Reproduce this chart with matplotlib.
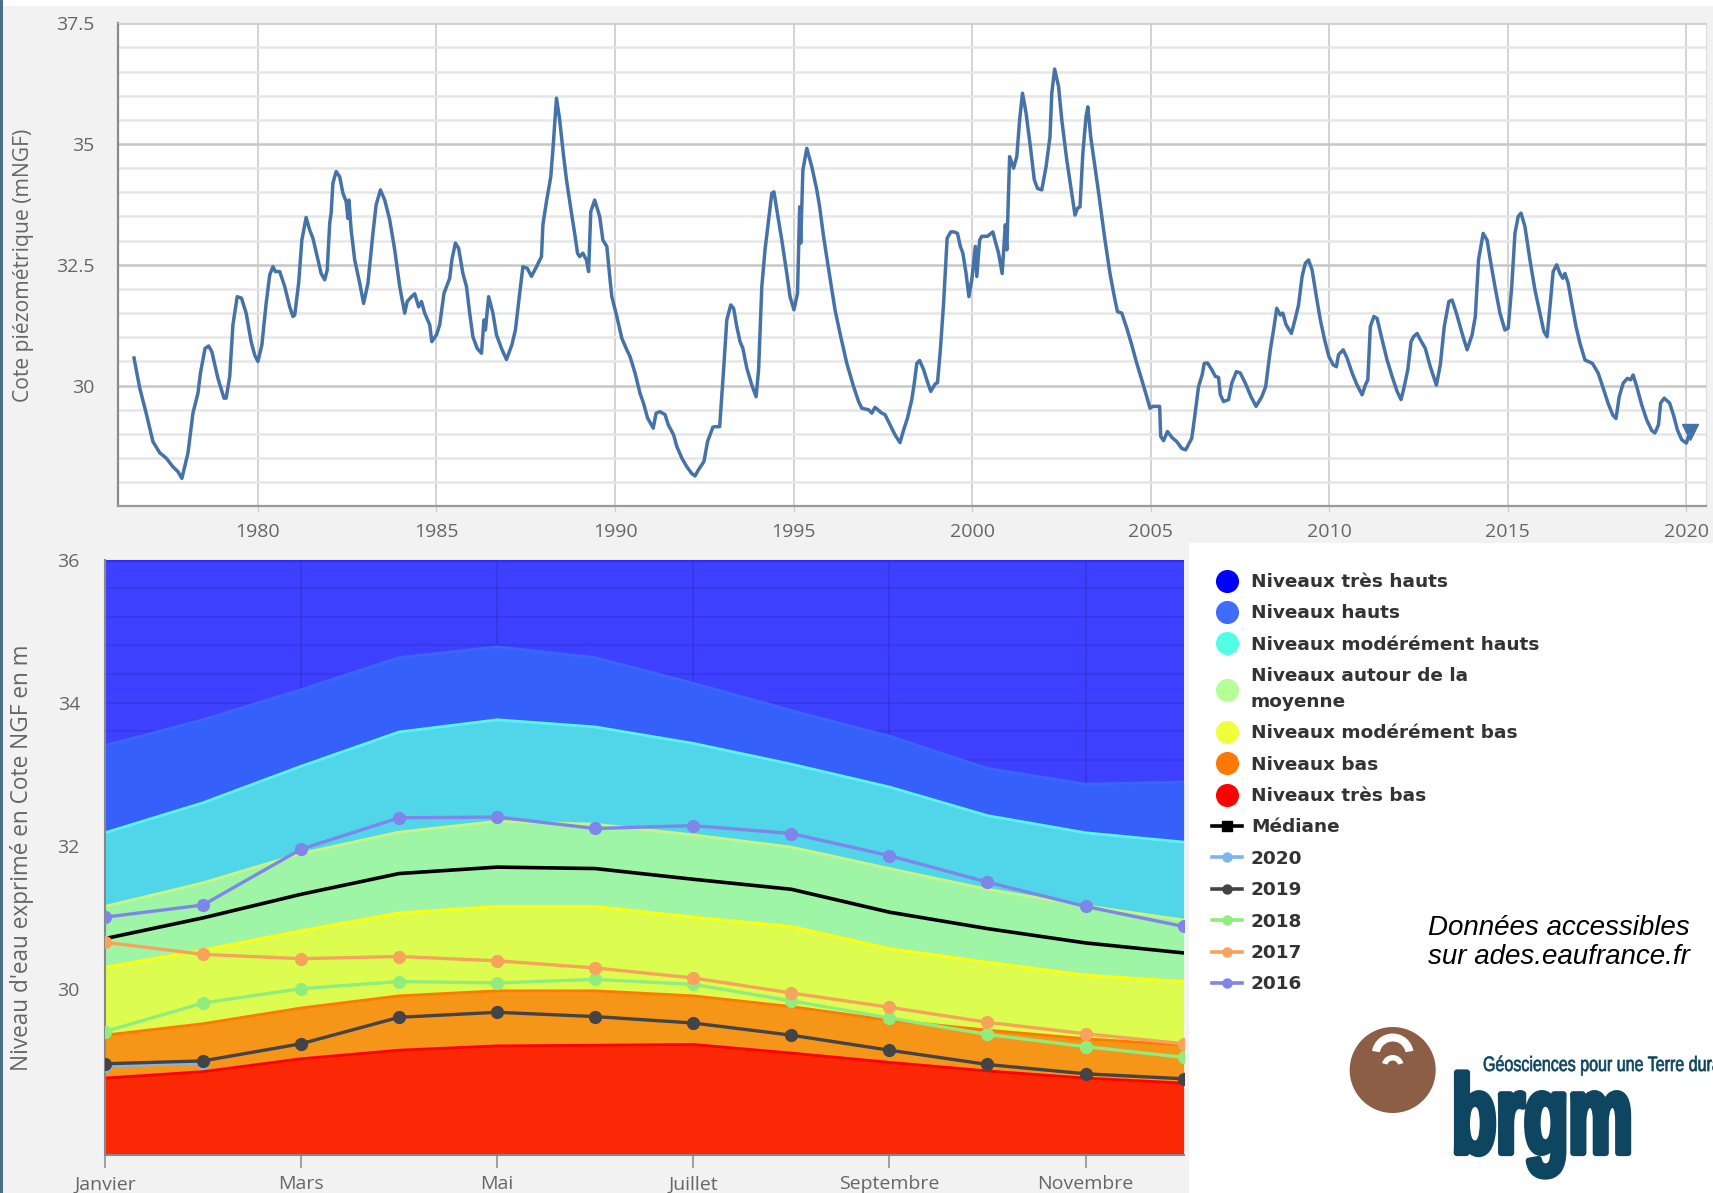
import numpy as np
import matplotlib
matplotlib.use("Agg")
import matplotlib.pyplot as plt
from matplotlib.lines import Line2D
from matplotlib.patches import Rectangle, Circle, Wedge
from matplotlib.font_manager import FontProperties
from matplotlib.patheffects import AbstractPathEffect
from matplotlib.transforms import Affine2D

plt.rcParams["font.family"] = ["Open Sans", "DejaVu Sans"]

# --- chronique piézométrique (année décimale, cote en mNGF) ---
dates = [
    1976.53, 1976.69, 1976.87, 1977.06, 1977.25, 1977.43, 1977.62, 1977.76, 1977.87, 1978.04,
    1978.18, 1978.32, 1978.39, 1978.52, 1978.62, 1978.71, 1978.88, 1979.05, 1979.11, 1979.21,
    1979.30, 1979.42, 1979.54, 1979.67, 1979.81, 1979.91, 1980.00, 1980.11, 1980.23, 1980.33,
    1980.42, 1980.49, 1980.61, 1980.75, 1980.89, 1980.98, 1981.03, 1981.14, 1981.23, 1981.35,
    1981.45, 1981.54, 1981.66, 1981.77, 1981.87, 1981.94, 1982.01, 1982.05, 1982.10, 1982.19,
    1982.29, 1982.38, 1982.47, 1982.52, 1982.55, 1982.61, 1982.71, 1982.85, 1982.96, 1983.08,
    1983.22, 1983.31, 1983.43, 1983.55, 1983.69, 1983.83, 1983.97, 1984.11, 1984.18, 1984.30,
    1984.39, 1984.50, 1984.58, 1984.67, 1984.81, 1984.87, 1985.00, 1985.09, 1985.21, 1985.37,
    1985.43, 1985.53, 1985.62, 1985.74, 1985.84, 1985.93, 1986.02, 1986.14, 1986.26, 1986.33,
    1986.37, 1986.46, 1986.58, 1986.68, 1986.82, 1986.96, 1987.11, 1987.21, 1987.33, 1987.42,
    1987.54, 1987.66, 1987.80, 1987.94, 1987.98, 1988.08, 1988.20, 1988.26, 1988.36, 1988.45,
    1988.55, 1988.64, 1988.78, 1988.87, 1988.95, 1989.01, 1989.10, 1989.20, 1989.26, 1989.32,
    1989.43, 1989.57, 1989.66, 1989.77, 1989.87, 1989.91, 1990.05, 1990.19, 1990.33, 1990.42,
    1990.56, 1990.70, 1990.80, 1990.91, 1991.07, 1991.15, 1991.26, 1991.40, 1991.49, 1991.64,
    1991.73, 1991.87, 1992.01, 1992.15, 1992.24, 1992.33, 1992.49, 1992.59, 1992.74, 1992.80,
    1992.93, 1993.04, 1993.13, 1993.24, 1993.32, 1993.41, 1993.50, 1993.58, 1993.69, 1993.83,
    1993.95, 1994.02, 1994.11, 1994.20, 1994.30, 1994.39, 1994.45, 1994.53, 1994.67, 1994.81,
    1994.90, 1995.01, 1995.11, 1995.17, 1995.20, 1995.26, 1995.37, 1995.51, 1995.65, 1995.73,
    1995.84, 1995.97, 1996.16, 1996.30, 1996.49, 1996.68, 1996.82, 1996.91, 1997.10, 1997.19,
    1997.28, 1997.47, 1997.56, 1997.70, 1997.84, 1997.98, 1998.08, 1998.19, 1998.31, 1998.38,
    1998.45, 1998.53, 1998.64, 1998.73, 1998.84, 1998.97, 1999.03, 1999.11, 1999.20, 1999.30,
    1999.40, 1999.50, 1999.59, 1999.67, 1999.74, 1999.83, 1999.91, 1999.99, 2000.09, 2000.13,
    2000.21, 2000.27, 2000.43, 2000.58, 2000.65, 2000.74, 2000.84, 2000.93, 2000.97, 2001.05,
    2001.16, 2001.25, 2001.33, 2001.41, 2001.51, 2001.63, 2001.74, 2001.83, 2001.95, 2002.07,
    2002.18, 2002.23, 2002.31, 2002.42, 2002.51, 2002.65, 2002.79, 2002.88, 2002.95, 2003.02,
    2003.10, 2003.19, 2003.24, 2003.32, 2003.44, 2003.53, 2003.63, 2003.72, 2003.86, 2004.00,
    2004.07, 2004.19, 2004.33, 2004.47, 2004.61, 2004.75, 2004.89, 2004.98, 2005.06, 2005.25,
    2005.28, 2005.36, 2005.47, 2005.59, 2005.73, 2005.87, 2005.98, 2006.15, 2006.22, 2006.34,
    2006.44, 2006.50, 2006.59, 2006.71, 2006.81, 2006.90, 2006.95, 2007.04, 2007.18, 2007.27,
    2007.40, 2007.51, 2007.65, 2007.81, 2007.95, 2008.11, 2008.22, 2008.35, 2008.44, 2008.53,
    2008.63, 2008.70, 2008.79, 2008.94, 2009.05, 2009.14, 2009.24, 2009.33, 2009.42, 2009.52,
    2009.64, 2009.75, 2009.87, 2009.99, 2010.11, 2010.20, 2010.26, 2010.39, 2010.50, 2010.64,
    2010.78, 2010.92, 2011.01, 2011.08, 2011.15, 2011.25, 2011.34, 2011.48, 2011.62, 2011.76,
    2011.90, 2012.01, 2012.10, 2012.20, 2012.29, 2012.36, 2012.46, 2012.55, 2012.69, 2012.83,
    2013.00, 2013.11, 2013.22, 2013.35, 2013.44, 2013.56, 2013.72, 2013.86, 2014.00, 2014.09,
    2014.18, 2014.31, 2014.42, 2014.51, 2014.64, 2014.78, 2014.92, 2015.01, 2015.11, 2015.20,
    2015.29, 2015.37, 2015.48, 2015.62, 2015.76, 2015.90, 2016.01, 2016.10, 2016.18, 2016.27,
    2016.37, 2016.46, 2016.54, 2016.60, 2016.69, 2016.79, 2016.91, 2017.02, 2017.16, 2017.25,
    2017.37, 2017.53, 2017.67, 2017.81, 2017.94, 2018.03, 2018.12, 2018.23, 2018.35, 2018.44,
    2018.51, 2018.61, 2018.75, 2018.89, 2019.03, 2019.12, 2019.22, 2019.28, 2019.38, 2019.53,
    2019.64, 2019.75, 2019.87, 2020.00, 2020.11,
]
cote = [
    30.57, 29.95, 29.43, 28.84, 28.61, 28.50, 28.32, 28.22, 28.08, 28.60,
    29.43, 29.84, 30.26, 30.77, 30.82, 30.70, 30.15, 29.74, 29.74, 30.19,
    31.26, 31.84, 31.81, 31.50, 30.91, 30.63, 30.50, 30.84, 31.70, 32.29,
    32.46, 32.36, 32.36, 32.05, 31.63, 31.43, 31.46, 32.12, 33.01, 33.48,
    33.22, 33.05, 32.67, 32.32, 32.19, 32.39, 33.36, 33.57, 34.19, 34.43,
    34.32, 33.98, 33.81, 33.46, 33.84, 33.22, 32.60, 32.12, 31.70, 32.12,
    33.15, 33.74, 34.05, 33.84, 33.43, 32.81, 32.05, 31.50, 31.74, 31.84,
    31.90, 31.63, 31.74, 31.50, 31.26, 30.91, 31.05, 31.26, 31.91, 32.22,
    32.60, 32.95, 32.84, 32.32, 32.05, 31.50, 31.01, 30.77, 30.67, 31.36,
    31.15, 31.84, 31.50, 31.05, 30.77, 30.54, 30.84, 31.15, 31.91, 32.46,
    32.43, 32.26, 32.46, 32.67, 33.33, 33.81, 34.32, 34.88, 35.95, 35.50,
    34.81, 34.26, 33.57, 33.15, 32.74, 32.67, 32.74, 32.60, 32.36, 33.60,
    33.84, 33.50, 33.01, 32.88, 32.12, 31.84, 31.43, 30.98, 30.74, 30.60,
    30.26, 29.84, 29.63, 29.33, 29.12, 29.43, 29.46, 29.40, 29.19, 28.98,
    28.74, 28.50, 28.32, 28.18, 28.13, 28.25, 28.43, 28.84, 29.14, 29.15,
    29.15, 30.33, 31.36, 31.67, 31.60, 31.22, 30.91, 30.77, 30.36, 30.01,
    29.77, 30.33, 32.05, 32.81, 33.43, 33.98, 34.01, 33.64, 33.01, 32.32,
    31.84, 31.57, 31.91, 33.70, 32.95, 34.46, 34.91, 34.53, 34.05, 33.70,
    33.08, 32.46, 31.57, 31.08, 30.46, 29.98, 29.67, 29.53, 29.50, 29.43,
    29.55, 29.43, 29.40, 29.19, 28.98, 28.82, 29.08, 29.33, 29.71, 30.05,
    30.46, 30.52, 30.33, 30.12, 29.88, 30.04, 30.06, 30.74, 31.70, 33.05,
    33.18, 33.18, 33.15, 32.88, 32.74, 32.32, 31.84, 32.19, 32.88, 32.26,
    33.01, 33.09, 33.09, 33.18, 32.98, 32.74, 32.32, 33.33, 32.81, 34.74,
    34.50, 34.74, 35.50, 36.05, 35.64, 34.95, 34.26, 34.08, 34.05, 34.53,
    35.15, 36.05, 36.55, 36.19, 35.50, 34.67, 33.98, 33.53, 33.67, 33.70,
    34.81, 35.57, 35.77, 35.15, 34.53, 34.05, 33.50, 33.01, 32.32, 31.77,
    31.53, 31.50, 31.19, 30.84, 30.46, 30.12, 29.77, 29.53, 29.57, 29.57,
    28.95, 28.86, 29.05, 28.93, 28.84, 28.70, 28.67, 28.91, 29.29, 29.98,
    30.22, 30.46, 30.47, 30.33, 30.19, 30.17, 29.81, 29.67, 29.71, 30.05,
    30.29, 30.26, 30.05, 29.77, 29.57, 29.77, 29.98, 30.74, 31.15, 31.60,
    31.46, 31.50, 31.26, 31.08, 31.39, 31.67, 32.26, 32.53, 32.60, 32.39,
    31.84, 31.36, 30.95, 30.60, 30.43, 30.39, 30.64, 30.74, 30.57, 30.26,
    30.01, 29.81, 30.01, 30.12, 31.22, 31.43, 31.39, 30.95, 30.53, 30.19,
    29.88, 29.71, 29.98, 30.33, 30.91, 31.01, 31.08, 30.95, 30.77, 30.39,
    30.01, 30.43, 31.22, 31.74, 31.77, 31.50, 31.08, 30.74, 31.05, 31.43,
    32.60, 33.15, 33.01, 32.60, 32.05, 31.50, 31.15, 31.19, 32.05, 33.15,
    33.50, 33.57, 33.29, 32.60, 31.98, 31.50, 31.12, 31.01, 31.63, 32.36,
    32.50, 32.32, 32.22, 32.32, 32.12, 31.70, 31.22, 30.88, 30.53, 30.50,
    30.46, 30.26, 29.95, 29.63, 29.39, 29.32, 29.77, 30.05, 30.15, 30.12,
    30.22, 29.98, 29.60, 29.29, 29.07, 29.02, 29.19, 29.64, 29.74, 29.64,
    29.39, 29.08, 28.88, 28.81, 29.05,
]

# --- statistiques mensuelles (Janvier -> Décembre) ---
mois = ["Janvier", "Février", "Mars", "Avril", "Mai", "Juin", "Juillet",
        "Août", "Septembre", "Octobre", "Novembre", "Décembre"]
haut_tres_bas = [28.75, 28.84, 29.02, 29.14, 29.20, 29.21, 29.22, 29.10, 28.97, 28.85, 28.75, 28.68]
haut_bas = [29.35, 29.51, 29.73, 29.90, 29.97, 29.97, 29.90, 29.75, 29.56, 29.42, 29.30, 29.21]
haut_mod_bas = [30.30, 30.54, 30.81, 31.06, 31.15, 31.15, 31.00, 30.87, 30.56, 30.37, 30.19, 30.10]
haut_moyenne = [31.15, 31.48, 31.89, 32.19, 32.34, 32.30, 32.15, 31.98, 31.68, 31.39, 31.16, 30.96]
haut_mod_hauts = [32.18, 32.60, 33.11, 33.59, 33.76, 33.66, 33.43, 33.14, 32.82, 32.42, 32.18, 32.05]
haut_hauts = [33.40, 33.76, 34.18, 34.63, 34.78, 34.63, 34.27, 33.89, 33.53, 33.08, 32.86, 32.89]
haut_tres_hauts = [36.0, 36.0, 36.0, 36.0, 36.0, 36.0, 36.0, 36.0, 36.0, 36.0, 36.0, 36.0]

mediane = [30.70, 30.99, 31.32, 31.61, 31.70, 31.68, 31.53, 31.39, 31.07, 30.84, 30.64, 30.50]
annee_2020 = [28.92, 28.96]
annee_2019 = [28.95, 28.99, 29.23, 29.60, 29.67, 29.61, 29.52, 29.35, 29.14, 28.94, 28.81, 28.74]
annee_2018 = [29.40, 29.80, 30.00, 30.10, 30.08, 30.13, 30.06, 29.83, 29.59, 29.36, 29.19, 29.04]
annee_2017 = [30.65, 30.48, 30.42, 30.45, 30.39, 30.29, 30.15, 29.94, 29.74, 29.53, 29.37, 29.23]
annee_2016 = [31.00, 31.17, 31.95, 32.39, 32.40, 32.24, 32.28, 32.17, 31.86, 31.49, 31.15, 30.87]


class Etroit(AbstractPathEffect):
    """Resserre le texte horizontalement autour de son point d'ancrage (et l'épaissit)."""

    def __init__(self, sx, gras=0.0):
        super().__init__()
        self.sx = sx
        self.gras = gras

    def draw_path(self, renderer, gc, tpath, affine, rgbFace=None):
        m = affine.get_matrix()
        x0, y0 = m[0, 2], m[1, 2]
        serre = Affine2D().translate(-x0, -y0).scale(self.sx, 1).translate(x0, y0)
        gc0 = renderer.new_gc()
        gc0.copy_properties(gc)
        gc0.set_linewidth(self.gras)
        renderer.draw_path(gc0, tpath, affine + serre, rgbFace)
        gc0.restore()


W, H = 1713, 1193
fig = plt.figure(figsize=(W / 100, H / 100), dpi=100)
fig.patch.set_facecolor("white")

# fond gris + bandeau, en coordonnées pixel
bg = fig.add_axes([0, 0, 1, 1], zorder=-10)
bg.set_xlim(0, W)
bg.set_ylim(H, 0)
bg.axis("off")
bg.add_patch(Rectangle((0, 6), W, 537, color="#f2f2f2", lw=0))
bg.add_patch(Rectangle((0, 543), 1189, 650, color="#f2f2f2", lw=0))
bg.add_patch(Rectangle((0, 0), 3, H, color="#4a7189", lw=0))

gris = "#666666"

# ---------------- graphique du haut ----------------
ax1 = fig.add_axes([118.3 / W, 1 - 506.4 / H, (1706 - 118.3) / W, (506.4 - 23.2) / H])
ax1.set_facecolor("white")
ax1.plot(dates, cote, color="#4572a7", lw=2.5, solid_joinstyle="round", zorder=3)
ax1.plot(dates[-1], cote[-1], marker="v", ms=12, color="#4572a7", zorder=4)
ax1.set_xlim(1976.09, 2020.55)
ax1.set_ylim(27.5, 37.5)
ax1.set_yticks([30, 32.5, 35, 37.5])
ax1.set_yticklabels(["30", "32.5", "35", "37.5"])
ax1.set_yticks(np.arange(27.5, 37.51, 0.5), minor=True)
ax1.set_xticks(range(1980, 2021, 5))
ax1.grid(axis="y", which="minor", color="#e6e6e6", lw=1.8)
ax1.grid(axis="y", which="major", color="#c6c6c6", lw=1.8)
ax1.grid(axis="x", which="major", color="#d0d0d0", lw=1.3)
ax1.tick_params(axis="y", which="both", length=0, pad=17, labelsize=14, labelcolor=gris)
ax1.tick_params(axis="x", length=4, color="#cccccc", pad=8, labelsize=14, labelcolor=gris)
ax1.spines["left"].set_color("#8a8a8a")
ax1.spines["left"].set_linewidth(1.6)
ax1.spines["bottom"].set_color("#9a9a9a")
ax1.spines["bottom"].set_linewidth(1.6)
ax1.spines["top"].set_color("#d0d0d0")
ax1.spines["right"].set_color("#dcdcdc")
fig.text(24 / W, 1 - 265 / H, "Cote piézométrique (mNGF)", rotation=90,
         ha="center", va="center", fontsize=15.2, color=gris)

# ---------------- graphique du bas ----------------
ax2 = fig.add_axes([104.9 / W, 1 - 1154.6 / H, (1183.6 - 104.9) / W, (1154.6 - 559.6) / H])
x = np.arange(len(mois))
ymin, ymax = 27.68, 36
ax2.set_xlim(0, 11)
ax2.set_ylim(ymin, ymax)
ax2.set_axisbelow("line")

ax2.fill_between(x, ymin, haut_tres_hauts, color="#3e40ff", lw=0, zorder=1)
bandes = [
    (haut_hauts, "#3660fa", "#3a66ff"),
    (haut_mod_hauts, "#50d6e8", "#5cf5f5"),
    (haut_moyenne, "#9ef5a5", "#c8f582"),
    (haut_mod_bas, "#dcfd50", "#ffff10"),
    (haut_bas, "#f59619", "#ff7a00"),
    (haut_tres_bas, "#fb2805", "#ff0000"),
]
for i, (top, fc, ec) in enumerate(bandes):
    low = bandes[i + 1][0] if i + 1 < len(bandes) else [ymin] * len(x)
    ax2.fill_between(x, low, top, color=fc, lw=0, zorder=2)
    ax2.plot(x, top, color=ec, lw=2, zorder=2.2)
ax2.plot(x, haut_tres_hauts, color="#2b2bff", lw=2, zorder=2.2)

ax2.plot(x, mediane, color="black", lw=2.6, zorder=3)
series = [
    (annee_2020, "#7cb5ec"),
    (annee_2019, "#434348"),
    (annee_2018, "#90ed7d"),
    (annee_2017, "#f7a35c"),
    (annee_2016, "#8085e9"),
]
for vals, c in series:
    ax2.plot(x[:len(vals)], vals, color=c, lw=2.4, marker="o", ms=8.5, zorder=4)

ax2.set_yticks([30, 32, 34, 36])
ax2.set_yticks(np.arange(28.0, 36.0, 0.4), minor=True)
ax2.set_xticks([0, 2, 4, 6, 8, 10])
ax2.set_xticklabels([mois[i] for i in [0, 2, 4, 6, 8, 10]])
ax2.grid(axis="y", which="both", color="black", alpha=0.09, lw=1.3)
ax2.grid(axis="x", which="major", color="black", alpha=0.12, lw=1.3)
ax2.tick_params(axis="y", which="both", length=0, pad=18, labelsize=14, labelcolor=gris)
ax2.tick_params(axis="x", length=9, width=1.3, color="#999999", pad=6,
                labelsize=14, labelcolor=gris)
for s in ["top", "right"]:
    ax2.spines[s].set_visible(False)
ax2.spines["left"].set_color("#888888")
ax2.spines["bottom"].set_color("#888888")
ax2.spines["left"].set_linewidth(1.5)
ax2.spines["bottom"].set_linewidth(1.5)
fig.text(22 / W, 1 - 858 / H, "Niveau d'eau exprimé en Cote NGF en m", rotation=90,
         ha="center", va="center", fontsize=16.3, color=gris)

# ---------------- légende ----------------
def rond(c):
    return Line2D([], [], ls="none", marker="o", ms=15.6, color=c)

def trait(c, m):
    return Line2D([], [], color=c, lw=2.6, marker=m, ms=7 if m == "s" else 6.5)

handles = [
    rond("#0000ff"), rond("#3d6cff"), rond("#50ffe6"), rond("#b4ff96"),
    rond("#f0ff3c"), rond("#ff7800"), rond("#ff0000"),
    trait("black", "s"),
    trait("#7cb5ec", "o"), trait("#434348", "o"), trait("#90ed7d", "o"),
    trait("#f7a35c", "o"), trait("#8085e9", "o"),
]
labels = [
    "Niveaux très hauts", "Niveaux hauts", "Niveaux modérément hauts",
    "Niveaux autour de la\nmoyenne", "Niveaux modérément bas", "Niveaux bas",
    "Niveaux très bas", "Médiane", "2020", "2019", "2018", "2017", "2016",
]
leg = fig.legend(handles, labels, loc="upper left", bbox_to_anchor=(1212 / W, 1 - 573 / H),
                 frameon=False, borderpad=0, borderaxespad=0, handlelength=1.65,
                 handletextpad=0.45, labelspacing=0.725,
                 prop=FontProperties(family="DejaVu Sans", weight="bold", size=13.3))
for t in leg.get_texts():
    t.set_color("#333333")
    t.set_linespacing(1.55)

fig.text(1428 / W, 1 - 942.5 / H, "Données accessibles\nsur ades.eaufrance.fr",
         ha="left", va="center", fontsize=20, style="italic", linespacing=1.18,
         family=["Liberation Sans", "DejaVu Sans"], color="black")

# ---------------- logo ----------------
brun = "#8c5e46"
bleu = "#0e4560"
bg.add_patch(Circle((1392.7, 1070), 43, color=brun, lw=0))
bg.add_patch(Wedge((1392.7, 1054.5), 21, 190, 350, width=8, color="white", lw=0))
bg.add_patch(Wedge((1392.7, 1066), 11, 195, 345, width=5.5, color="white", lw=0))
bg.text(1452, 1153, "brgm", ha="left", va="baseline", fontsize=80, fontweight="bold",
        color=bleu, family=["Liberation Sans", "DejaVu Sans"],
        path_effects=[Etroit(0.65, gras=4.5)])
bg.text(1483, 1071, "Géosciences pour une Terre durable", ha="left", va="baseline",
        fontsize=15, color=bleu, family=["Liberation Sans", "DejaVu Sans"],
        path_effects=[Etroit(0.77, gras=0.5)])

fig.savefig("out.png", dpi=100, facecolor=fig.get_facecolor())
